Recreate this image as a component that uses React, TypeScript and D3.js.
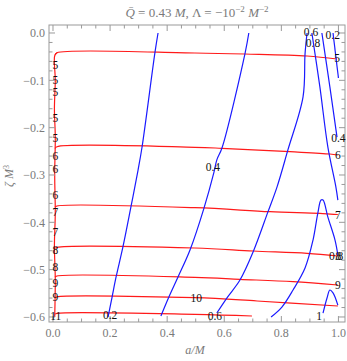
import React from "react";
import * as d3 from "d3";

type P = [number, number];

// Red contours (levels 5..11): [a/M, ζ M^3]
const red5: P[] = [[0.007, -0.046], [0.014, -0.0416], [0.497, -0.0423], [0.673, -0.0444], [0.89, -0.0486], [0.995, -0.0549]];
const red6: P[] = [[0.007, -0.244], [0.014, -0.2402], [0.497, -0.2415], [0.592, -0.2436], [0.83, -0.2508], [0.97, -0.2557], [0.998, -0.2578]];
const red7: P[] = [[0.007, -0.368], [0.014, -0.3655], [0.497, -0.3691], [0.76, -0.3776], [0.935, -0.3809], [0.998, -0.3835]];
const red8: P[] = [[0.007, -0.455], [0.014, -0.4528], [0.497, -0.4543], [0.701, -0.4606], [0.89, -0.4655], [0.998, -0.4712]];
const red9: P[] = [[0.007, -0.516], [0.014, -0.5134], [0.497, -0.5162], [0.655, -0.5204], [0.841, -0.5255], [0.998, -0.5324]];
const red10: P[] = [[0.007, -0.559], [0.014, -0.5572], [0.497, -0.5593], [0.715, -0.5662], [0.998, -0.5768]];
const red11: P[] = [[0.007, -0.594], [0.014, -0.5922], [0.497, -0.5943], [0.697, -0.5979]];
const redEdge: P[] = [[0.014, -0.0416], [0.006, -0.048], [0.008, -0.1], [0.005, -0.16], [0.008, -0.22], [0.006, -0.3], [0.008, -0.38], [0.005, -0.45], [0.008, -0.52], [0.006, -0.6]];

// Blue contours (levels 0.2..1)
const blue02a: P[] = [[0.368, 0], [0.357, -0.042], [0.312, -0.2409], [0.298, -0.2895], [0.273, -0.3676], [0.245, -0.4521], [0.221, -0.5155], [0.207, -0.5578], [0.193, -0.6]];
const blue02b: P[] = [[0.981, 0], [1.0, -0.095]];
const blue04a: P[] = [[0.686, 0], [0.673, -0.0423], [0.592, -0.243], [0.574, -0.268], [0.564, -0.294], [0.529, -0.37], [0.48, -0.4585], [0.438, -0.5155], [0.406, -0.5578], [0.378, -0.598]];
const blue04b: P[] = [[0.942, 0], [0.97, -0.114], [0.995, -0.22]];
const blue06: P[] = [[0.89, 0], [0.883, -0.0444], [0.876, -0.135], [0.823, -0.247], [0.785, -0.325], [0.753, -0.378], [0.701, -0.4627], [0.655, -0.522], [0.609, -0.56], [0.574, -0.5916]];
const blue08a: P[] = [[0.907, 0], [0.935, -0.114], [0.963, -0.241], [0.991, -0.325], [0.998, -0.353]];
const blue08b: P[] = [[0.764, -0.6], [0.802, -0.579], [0.841, -0.543], [0.883, -0.4965], [0.911, -0.4374], [0.928, -0.38], [0.939, -0.353], [0.946, -0.353], [0.963, -0.389], [0.988, -0.4374], [0.998, -0.469]];
const blue1: P[] = [[0.946, -0.592], [0.96, -0.56], [0.97, -0.543], [0.981, -0.549], [0.998, -0.575]];

const redLines = [red5, red6, red7, red8, red9, red10, red11, redEdge];
const blueLines = [blue02a, blue02b, blue04a, blue04b, blue06, blue08a, blue08b, blue1];

// Contour labels: [a, ζ, text]
const contourLabels: [number, number, string][] = [
  [0.995, -0.053, "5"], [0.998, -0.258, "6"], [0.998, -0.385, "7"], [1.0, -0.472, "8"],
  [0.998, -0.532, "9"], [0.502, -0.56, "10"], [0.01, -0.598, "11"],
  [0.2, -0.595, "0.2"], [0.98, -0.004, "0.2"], [0.56, -0.283, "0.4"], [1.0, -0.222, "0.4"],
  [0.567, -0.598, "0.6"], [0.904, 0.002, "0.6"], [0.911, -0.021, "0.8"], [0.992, -0.472, "0.8"],
  [0.932, -0.598, "1"],
];
const edgeLabels: [number, string][] = [
  [-0.068, "5"], [-0.099, "5"], [-0.125, "5"], [-0.18, "5"], [-0.222, "5"], [-0.26, "6"], [-0.287, "6"],
  [-0.342, "6"], [-0.378, "7"], [-0.42, "7"], [-0.458, "8"], [-0.494, "8"], [-0.528, "9"], [-0.558, "9"],
];

const xTicks = [0, 0.2, 0.4, 0.6, 0.8, 1.0];
const yTicks = [0, -0.1, -0.2, -0.3, -0.4, -0.5, -0.6];

const W = 347, H = 361;
const L = 49, R = 345, T = 25, B = 322;

export default function App() {
  const x = d3.scaleLinear().domain([-0.014, 1.023]).range([L, R]);
  const y = d3.scaleLinear().domain([0.0169, -0.6106]).range([T, B]);
  const line = d3.line<P>().x(d => x(d[0])).y(d => y(d[1])).curve(d3.curveCatmullRom.alpha(0.5));

  const xMinor = d3.range(0, 1.001, 0.05).filter(v => !xTicks.some(t => Math.abs(t - v) < 1e-6));
  const yMinor = d3.range(0, -0.601, -0.02).filter(v => !yTicks.some(t => Math.abs(t - v) < 1e-6));
  const frameCol = "#9a9a9a";
  const textCol = "#7a7a7a";
  const serif = "'Liberation Serif', 'DejaVu Serif', serif";
  const fmt = (v: number) => (v === 0 ? "0.0" : (v < 0 ? "\u2212" : "") + Math.abs(v).toFixed(1));

  return (
    <svg width={W} height={H} style={{ position: "absolute", left: 0, top: 0, background: "#fff" }} fontFamily={serif}>
      <rect x={0} y={0} width={W} height={H} fill="#fff" />
      <defs>
        <clipPath id="plot"><rect x={L} y={T} width={R - L} height={B - T} /></clipPath>
      </defs>
      <g clipPath="url(#plot)" fill="none" strokeWidth={1.2}>
        {redLines.map((p, i) => <path key={"r" + i} d={line(p) || ""} stroke="#ff1a1a" />)}
        {blueLines.map((p, i) => <path key={"b" + i} d={line(p) || ""} stroke="#1a1aff" />)}
      </g>
      {/* frame */}
      <rect x={L} y={T} width={R - L} height={B - T} fill="none" stroke={frameCol} strokeWidth={1} />
      {xTicks.map(v => (
        <g key={"xt" + v}>
          <line x1={x(v)} x2={x(v)} y1={B} y2={B - 6} stroke={frameCol} />
          <line x1={x(v)} x2={x(v)} y1={T} y2={T + 6} stroke={frameCol} />
          <text x={x(v)} y={B + 15} textAnchor="middle" fontSize={12} fill={textCol}>{fmt(v)}</text>
        </g>
      ))}
      {xMinor.map(v => (
        <g key={"xm" + v}>
          <line x1={x(v)} x2={x(v)} y1={B} y2={B - 3.5} stroke={frameCol} />
          <line x1={x(v)} x2={x(v)} y1={T} y2={T + 3.5} stroke={frameCol} />
        </g>
      ))}
      {yTicks.map(v => (
        <g key={"yt" + v}>
          <line x1={L} x2={L + 6} y1={y(v)} y2={y(v)} stroke={frameCol} />
          <line x1={R} x2={R - 6} y1={y(v)} y2={y(v)} stroke={frameCol} />
          <text x={L - 4} y={y(v)} dy="0.35em" textAnchor="end" fontSize={12} fill={textCol}>{fmt(v)}</text>
        </g>
      ))}
      {yMinor.map(v => (
        <g key={"ym" + v}>
          <line x1={L} x2={L + 3.5} y1={y(v)} y2={y(v)} stroke={frameCol} />
          <line x1={R} x2={R - 3.5} y1={y(v)} y2={y(v)} stroke={frameCol} />
        </g>
      ))}
      {/* contour labels */}
      <g fontSize={11.5} fill="#111" textAnchor="middle">
        {contourLabels.map(([a, z, t], i) => (
          <text key={"cl" + i} x={x(a)} y={y(z)} dy="0.35em">{t}</text>
        ))}
        {edgeLabels.map(([z, t], i) => (
          <text key={"el" + i} x={x(0.008)} y={y(z)} dy="0.35em">{t}</text>
        ))}
      </g>
      {/* title */}
      <text x={197} y={17} textAnchor="middle" fontSize={13} fill={textCol}>
        <tspan fontStyle="italic">{"Q\u0304"}</tspan>
        <tspan> = 0.43 </tspan>
        <tspan fontStyle="italic">M</tspan>
        <tspan>, Λ = −10</tspan>
        <tspan dy={-5} fontSize={9}>−2</tspan>
        <tspan dy={5}> </tspan>
        <tspan fontStyle="italic">M</tspan>
        <tspan dy={-5} fontSize={9}>−2</tspan>
      </text>
      {/* axis labels */}
      <text x={195} y={354} textAnchor="middle" fontSize={12} fill={textCol} fontStyle="italic">a/M</text>
      <text transform={`translate(13,176) rotate(-90)`} textAnchor="middle" fontSize={12} fill={textCol}>
        <tspan fontStyle="italic">ζ M</tspan>
        <tspan dy={-4} fontSize={8}>3</tspan>
      </text>
    </svg>
  );
}
